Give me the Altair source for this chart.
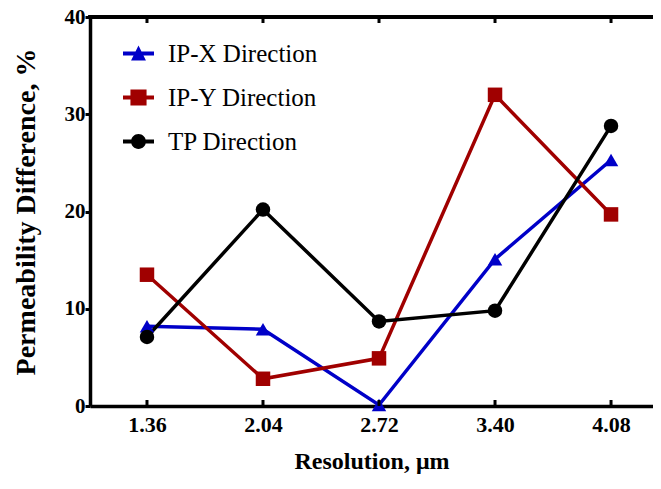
import altair as alt
import pandas as pd

resolution = [1.36, 2.04, 2.72, 3.40, 4.08]
ip_x = [8.2, 7.9, 0.1, 15.1, 25.3]
ip_y = [13.5, 2.8, 4.9, 32.0, 19.7]
tp = [7.1, 20.2, 8.7, 9.8, 28.8]

series_names = ["IP-X Direction", "IP-Y Direction", "TP Direction"]
series_values = [ip_x, ip_y, tp]
colors = ["#0000C8", "#A00000", "#000000"]
shapes = ["triangle-up", "square", "circle"]

legend_shapes = [
    "M-1,-0.13H1V0.13H-1Z M0,-0.52L0.48,0.45L-0.48,0.45Z",
    "M-1,-0.13H1V0.13H-1Z M-0.52,-0.52H0.52V0.52H-0.52Z",
    "M-1,-0.13H1V0.13H-1Z M-0.48,0A0.48,0.48 0 1,1 0.48,0A0.48,0.48 0 1,1 -0.48,0Z",
]

rows = []
for name, vals in zip(series_names, series_values):
    for r, v in zip(resolution, vals):
        rows.append({"res": r, "value": v, "series": name})
df = pd.DataFrame(rows)
ticks_df = pd.DataFrame({"res": resolution})

FONT = "'Liberation Serif', 'Times New Roman', Times, serif"
W, H = 563, 389

x_scale = alt.Scale(domain=[1.026, 4.326], nice=False, zero=False)
y_scale = alt.Scale(domain=[0, 40], nice=False)

x_enc = alt.X(
    "res:Q", scale=x_scale,
    axis=alt.Axis(
        values=resolution, format=".2f", title="Resolution, μm",
        grid=False, ticks=False, domainWidth=3.5,
        domainColor="black",
        labelFont=FONT, labelFontSize=22, labelFontWeight="bold",
        labelColor="black", labelPadding=8,
        titleFont=FONT, titleFontSize=24, titleFontWeight="bold",
        titleColor="black", titlePadding=14,
    ),
)
y_enc = alt.Y(
    "value:Q", scale=y_scale,
    axis=alt.Axis(
        values=[0, 10, 20, 30, 40], title="Permeability Difference, %",
        grid=False, tickSize=5, tickWidth=3, domainWidth=3.5,
        domainColor="black", tickColor="black",
        labelFont=FONT, labelFontSize=21, labelFontWeight="bold",
        labelColor="black", labelPadding=0,
        titleFont=FONT, titleFontSize=28, titleFontWeight="bold",
        titleColor="black", titlePadding=24,
    ),
)

color_scale = alt.Scale(domain=series_names, range=colors)

base = alt.Chart(df)

lines = base.mark_line(strokeWidth=3.5).encode(
    x=x_enc, y=y_enc,
    color=alt.Color("series:N", scale=color_scale, legend=None),
    detail="series:N",
)

points = base.mark_point(filled=True, size=210, opacity=1).encode(
    x=x_enc, y=y_enc,
    color=alt.Color("series:N", scale=color_scale, legend=None),
    shape=alt.Shape("series:N", scale=alt.Scale(domain=series_names, range=shapes), legend=None),
)

legend_props = dict(
    title=None, orient="none", legendX=33, legendY=21, padding=0,
    symbolSize=961, symbolStrokeWidth=0, symbolOpacity=1,
    labelFont=FONT, labelFontSize=25, labelColor="black",
    labelOffset=14, rowPadding=15,
)

legend_layer = base.transform_filter("false").mark_point(filled=True, opacity=1).encode(
    x=x_enc, y=y_enc,
    color=alt.Color("series:N", scale=color_scale, legend=alt.Legend(**legend_props)),
    shape=alt.Shape(
        "series:N", scale=alt.Scale(domain=series_names, range=legend_shapes),
        legend=alt.Legend(**legend_props),
    ),
)

tick_chart = alt.Chart(ticks_df)
bottom_ticks = tick_chart.mark_rule(color="black", strokeWidth=3).encode(
    x=x_enc,
    y=alt.value(H - 6), y2=alt.value(H),
)
top_ticks = tick_chart.mark_rule(color="black", strokeWidth=3).encode(
    x=x_enc,
    y=alt.value(0), y2=alt.value(6),
)
top_line = tick_chart.mark_rule(color="black", strokeWidth=3.5).encode(
    x=alt.value(-1.5), x2=alt.value(W), y=alt.value(0),
)

chart = alt.layer(
    lines, points, legend_layer, bottom_ticks, top_ticks, top_line
).resolve_scale(
    color="independent", shape="independent"
).properties(
    width=W, height=H,
    autosize=alt.AutoSizeParams(type="none"),
    padding={"left": 82, "top": 9, "right": 0, "bottom": 70},
).configure_view(stroke=None).configure(background="white")

chart.save("out.html", embed_options={"renderer": "svg", "actions": False})
